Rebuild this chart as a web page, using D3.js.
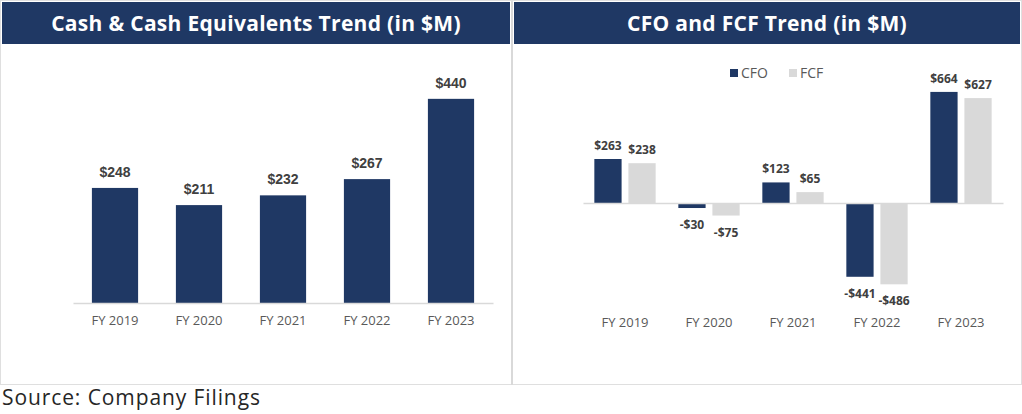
<!DOCTYPE html>
<html>
<head>
<meta charset="utf-8">
<script src="https://cdn.jsdelivr.net/npm/d3@7"></script>
<style>
  html, body { margin: 0; padding: 0; background: #fff; }
  svg { display: block; }
</style>
</head>
<body>
<div id="chart"></div>
<script>
const years = ['FY 2019', 'FY 2020', 'FY 2021', 'FY 2022', 'FY 2023'];
const cashValues = [248, 211, 232, 267, 440];
const cfoValues = [263, -30, 123, -441, 664];
const fcfValues = [238, -75, 65, -486, 627];
const seriesNames = ['CFO', 'FCF'];

const navy = '#1F3864';
const lightGray = '#D9D9D9';
const textGray = '#595959';
const labelGray = '#404040';
const titleFont = "'Open Sans', 'Noto Sans', sans-serif";
const bodyFont = "'Open Sans', 'Noto Sans', sans-serif";

const width = 1022;
const height = 414;

const svg = d3.select('#chart')
  .append('svg')
  .attr('width', width)
  .attr('height', height);

// panel frames
function panel(x0, x1, title) {
  svg.append('rect')
    .attr('x', x0 + 0.5).attr('y', 0.5)
    .attr('width', x1 - x0 - 1).attr('height', 384)
    .style('fill', 'none')
    .style('stroke', '#BFBFBF')
    .style('stroke-dasharray', '1,1');
  svg.append('rect')
    .attr('x', x0 + 2).attr('y', 2)
    .attr('width', x1 - x0 - 4).attr('height', 42)
    .style('fill', navy);
  svg.append('text')
    .attr('x', (x0 + x1) / 2).attr('y', 31)
    .attr('text-anchor', 'middle')
    .style('font-family', titleFont)
    .style('font-weight', 700)
    .style('font-size', '21px')
    .style('letter-spacing', '0.3px')
    .style('fill', '#fff')
    .text(title);
}

panel(0, 512, 'Cash & Cash Equivalents Trend (in $M)');
panel(512, 1022, 'CFO and FCF Trend (in $M)');

svg.append('line')
  .attr('x1', 512).attr('x2', 512)
  .attr('y1', 2).attr('y2', 385)
  .style('stroke', lightGray)
  .style('stroke-width', 2);

const fmt = v => (v < 0 ? '-$' : '$') + Math.abs(v);

// left chart: cash
const xCash = d3.scaleBand()
  .domain(years)
  .range([73, 493])
  .paddingInner(0.45)
  .paddingOuter(0.225);

const yCash = d3.scaleLinear()
  .domain([0, 500])
  .range([303, 71]);

svg.append('g')
  .selectAll('rect')
  .data(years)
  .join('rect')
  .attr('x', d => xCash(d))
  .attr('y', (d, i) => yCash(cashValues[i]))
  .attr('width', xCash.bandwidth())
  .attr('height', (d, i) => yCash(0) - yCash(cashValues[i]))
  .style('fill', navy);

svg.append('g')
  .selectAll('text')
  .data(years)
  .join('text')
  .attr('x', d => xCash(d) + xCash.bandwidth() / 2)
  .attr('y', (d, i) => yCash(cashValues[i]) - 11)
  .attr('text-anchor', 'middle')
  .style('font-family', "'Liberation Sans', Arial, sans-serif")
  .style('font-weight', 700)
  .style('font-size', '14px')
  .style('fill', labelGray)
  .text((d, i) => fmt(cashValues[i]));

const xAxisCash = svg.append('g')
  .attr('transform', `translate(0,${yCash(0)})`)
  .call(d3.axisBottom(xCash).tickSize(0).tickPadding(13));
xAxisCash.select('.domain').style('stroke', lightGray).style('stroke-width', 1.5);
xAxisCash.selectAll('text')
  .style('font-family', bodyFont)
  .style('font-size', '13px')
  .style('fill', textGray);

// right chart: CFO / FCF
const xFlow = d3.scaleBand()
  .domain(years)
  .range([583, 1003])
  .paddingInner(0.27)
  .paddingOuter(0.135);

const xSeries = d3.scaleBand()
  .domain(seriesNames)
  .range([0, xFlow.bandwidth()])
  .paddingInner(0.2);

const yFlow = d3.scaleLinear()
  .domain([-600, 700])
  .range([203 + 600 * 0.1673, 203 - 700 * 0.1673]);

const flowRows = years.flatMap((y, i) => [
  { year: y, series: 'CFO', value: cfoValues[i] },
  { year: y, series: 'FCF', value: fcfValues[i] }
]);
const colorOf = d3.scaleOrdinal().domain(seriesNames).range([navy, lightGray]);

svg.append('g')
  .selectAll('rect')
  .data(flowRows)
  .join('rect')
  .attr('x', d => xFlow(d.year) + xSeries(d.series))
  .attr('y', d => yFlow(Math.max(0, d.value)))
  .attr('width', xSeries.bandwidth())
  .attr('height', d => Math.abs(yFlow(d.value) - yFlow(0)))
  .style('fill', d => colorOf(d.series));

svg.append('g')
  .selectAll('text')
  .data(flowRows)
  .join('text')
  .attr('x', d => xFlow(d.year) + xSeries(d.series) + xSeries.bandwidth() / 2)
  .attr('y', d => d.value >= 0 ? yFlow(d.value) - 9 : yFlow(d.value) + 21)
  .attr('text-anchor', 'middle')
  .style('font-family', bodyFont)
  .style('font-weight', 700)
  .style('font-size', '12px')
  .style('fill', labelGray)
  .text(d => fmt(d.value));

const xAxisFlow = svg.append('g')
  .attr('transform', `translate(0,${yFlow(0)})`)
  .call(d3.axisBottom(xFlow).tickSize(0).tickFormat(''));
xAxisFlow.select('.domain').style('stroke', lightGray).style('stroke-width', 1.5);

svg.append('g')
  .selectAll('text')
  .data(years)
  .join('text')
  .attr('x', d => xFlow(d) + xFlow.bandwidth() / 2)
  .attr('y', 327)
  .attr('text-anchor', 'middle')
  .style('font-family', bodyFont)
  .style('font-size', '13px')
  .style('fill', textGray)
  .text(d => d);

// legend
const legend = svg.append('g')
  .selectAll('g')
  .data(seriesNames)
  .join('g')
  .attr('transform', (d, i) => `translate(${730 + i * 59},69)`);
legend.append('rect')
  .attr('width', 8).attr('height', 8)
  .style('fill', d => colorOf(d));
legend.append('text')
  .attr('x', 11).attr('y', 9)
  .style('font-family', bodyFont)
  .style('font-size', '14px')
  .style('fill', textGray)
  .text(d => d);

// source
svg.append('text')
  .attr('x', 2).attr('y', 405)
  .style('font-family', bodyFont)
  .style('font-size', '21px')
  .style('letter-spacing', '0.9px')
  .style('fill', '#262626')
  .text('Source: Company Filings');
</script>
</body>
</html>
